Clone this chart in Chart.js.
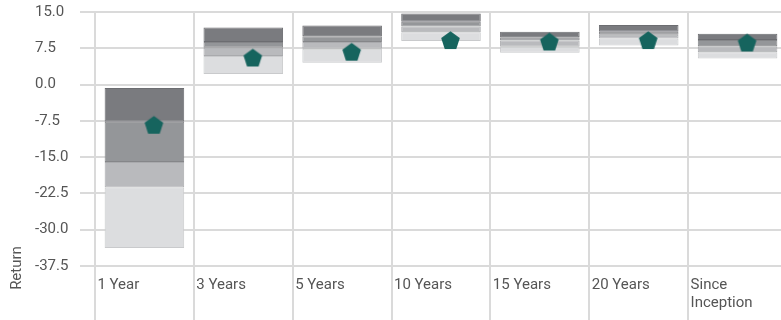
<!DOCTYPE html>
<html lang="en">
	<head>
		<meta charset="UTF-8">
		<title>Return ranges</title>
		<script src="https://cdn.jsdelivr.net/npm/chart.js"></script>
		<style>
			html, body { margin: 0; padding: 0; overflow: hidden; background: #fff; }
			#wrap { width: 781px; height: 320px; overflow: hidden; }
		</style>
	</head>
	<body>
		<div id="wrap">
			<canvas id="rangos" width="787" height="320"></canvas>
		</div>
		<script>
			// Categorias y limites de cada franja (de arriba a abajo)
			const categorias = ['1 Year', '3 Years', '5 Years', '10 Years', '15 Years', '20 Years', ['Since', 'Inception']];
			const techo   = [-0.7, 11.8, 12.2, 14.7, 10.9, 12.3, 10.5];
			const cuartil1 = [-7.7, 8.8, 10.0, 13.0, 9.8, 10.9, 9.2];
			const mediana = [-16.0, 7.6, 8.8, 12.0, 9.1, 10.3, 7.9];
			const cuartil3 = [-21.3, 5.9, 7.4, 10.8, 7.8, 9.5, 6.7];
			const suelo   = [-33.8, 2.2, 4.5, 9.0, 6.6, 8.1, 5.4];
			const fondo   = [-8.5, 5.4, 6.6, 9.0, 8.7, 9.0, 8.5];
			const tituloY = 'Return';

			const texto = '#555555';
			const rejilla = '#dadada';
			const fuente = { family: 'Roboto', size: 15 };

			// Pentagono para el marcador del fondo
			function pentagono(color) {
				const c = document.createElement('canvas');
				c.width = 40;
				c.height = 24;
				const g = c.getContext('2d');
				const cx = 29.5, cy = 12, r = 9.8;
				g.beginPath();
				for (let i = 0; i < 5; i++) {
					const a = -Math.PI / 2 + i * 2 * Math.PI / 5;
					const px = cx + r * Math.cos(a), py = cy + r * Math.sin(a);
					if (i === 0) g.moveTo(px, py); else g.lineTo(px, py);
				}
				g.closePath();
				g.fillStyle = color;
				g.fill();
				return c;
			}

			function franja(bajo, alto) {
				return bajo.map((v, i) => [v, alto[i]]);
			}

			function barra(datos, relleno, borde) {
				return {
					type: 'bar',
					data: datos,
					backgroundColor: relleno,
					borderColor: borde,
					borderWidth: 1,
					borderSkipped: false,
					grouped: false,
					barPercentage: 0.805,
					categoryPercentage: 1,
					order: 1
				};
			}

			const tituloEje = {
				id: 'tituloEje',
				afterDraw(chart) {
					const ctx = chart.ctx;
					ctx.save();
					ctx.translate(17, 268);
					ctx.rotate(-Math.PI / 2);
					ctx.font = '15px Roboto';
					ctx.fillStyle = texto;
					ctx.textAlign = 'center';
					ctx.textBaseline = 'middle';
					ctx.fillText(tituloY, 0, 0);
					ctx.restore();
				}
			};

			const ctx = document.getElementById('rangos').getContext('2d');
			const rangos = new Chart(ctx, {
				data: {
					labels: categorias,
					datasets: [
						barra(franja(suelo, cuartil3), '#dcdddf', '#c9cacc'),
						barra(franja(cuartil3, mediana), '#b9babd', '#a9aaad'),
						barra(franja(mediana, cuartil1), '#949699', '#858689'),
						barra(franja(cuartil1, techo), '#7a7b7f', '#6c6d71'),
						{
							type: 'line',
							data: fondo,
							showLine: false,
							pointStyle: pentagono('#16645e'),
							pointRadius: 10,
							order: 0
						}
					]
				},
				options: {
					responsive: false,
					animation: false,
					layout: { autoPadding: false, padding: { left: 35, top: 12, right: 0, bottom: 0 } },
					plugins: {
						legend: { display: false },
						tooltip: { enabled: false }
					},
					scales: {
						x: {
							type: 'category',
							offset: true,
							grid: { offset: true, color: rejilla, lineWidth: 2, tickLength: 60, tickColor: rejilla },
							border: { color: rejilla, width: 2 },
							ticks: {
								color: texto,
								font: fuente,
								align: 'start',
								labelOffset: -47,
								padding: -50,
								maxRotation: 0,
								autoSkip: false
							},
							afterFit(scale) {
								scale.height = 54;
								scale.paddingLeft = 0;
								scale.paddingRight = 0;
							}
						},
						y: {
							min: -37.5,
							max: 15,
							grid: { color: rejilla, lineWidth: 2, tickLength: 15, tickColor: rejilla },
							border: { color: rejilla, width: 2 },
							ticks: {
								stepSize: 7.5,
								color: texto,
								font: fuente,
								crossAlign: 'far',
								callback: v => v.toFixed(1)
							},
							afterFit(scale) { scale.width = 60; }
						}
					}
				},
				plugins: [tituloEje]
			});
		</script>
	</body>
</html>
